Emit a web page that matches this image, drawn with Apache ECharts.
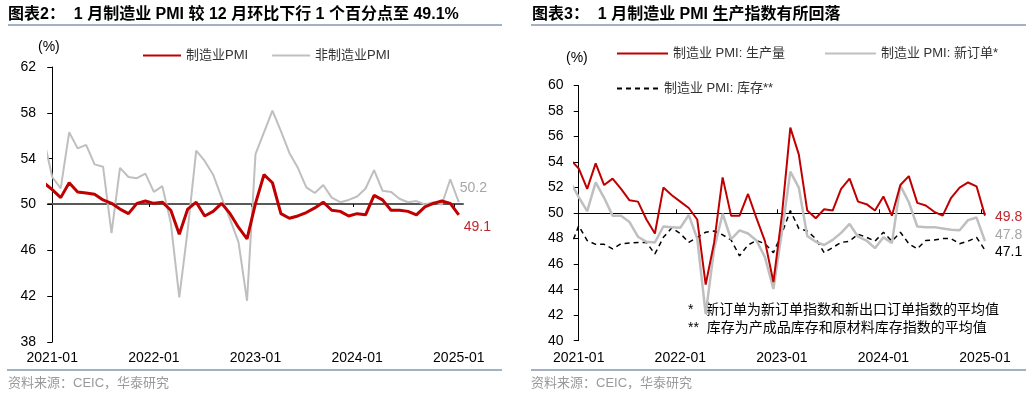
<!DOCTYPE html>
<html><head><meta charset="utf-8">
<script src="https://cdn.jsdelivr.net/npm/echarts@6/dist/echarts.min.js"></script>
<style>html,body{margin:0;padding:0;background:#fff}#c{width:1032px;height:394px}</style>
</head><body><div id="c"></div>
<script>
// Months: index -1 = 2020-12, 0 = 2021-01 ... 48 = 2025-01
const startMonth = -1;
const xTickLabels = ['2021-01','2022-01','2023-01','2024-01','2025-01'];
const xLabelValues = [0,12,24,36,48];
const xTickValues = [11.5,23.5,35.5,47.5];

const mfgPMI = [51.9,
 51.3,50.6,51.9,51.1,51.0,50.9,50.4,50.1,49.6,49.2,50.1,50.3,
 50.1,50.2,49.5,47.4,49.6,50.2,49.0,49.4,50.1,49.2,48.0,47.0,
 50.1,52.6,51.9,49.2,48.8,49.0,49.3,49.7,50.2,49.5,49.4,49.0,
 49.2,49.1,50.8,50.4,49.5,49.5,49.4,49.1,49.8,50.1,50.3,50.1,
 49.1];
const nonMfgPMI = [55.7,
 52.4,51.4,56.3,54.9,55.2,53.5,53.3,47.5,53.2,52.4,52.3,52.7,
 51.1,51.6,48.4,41.9,47.8,54.7,53.8,52.6,50.6,48.7,46.7,41.6,
 54.4,56.3,58.2,56.4,54.5,53.2,51.5,51.0,51.7,50.6,50.2,50.4,
 50.7,51.4,53.0,51.2,51.1,50.5,50.2,50.3,50.0,50.2,50.0,52.2,
 50.2];
const production = [54.2,
 53.5,51.9,53.9,52.2,52.7,51.9,51.0,50.9,49.5,48.4,52.0,51.4,
 50.9,50.4,49.5,44.4,47.7,52.8,49.8,49.8,51.5,49.6,47.8,44.6,
 49.8,56.7,54.6,50.2,49.6,50.3,50.2,51.9,52.7,50.9,50.7,50.2,
 51.3,49.8,52.2,52.9,50.8,50.6,50.1,49.8,51.2,52.0,52.4,52.1,
 49.8];
const newOrders = [52.45,
 51.25,50.15,52.4,51.2,49.8,49.8,49.3,48.15,47.75,47.7,48.95,48.9,
 48.85,49.85,48.0,42.1,47.2,49.95,47.95,48.65,48.4,47.85,46.55,44.05,
 48.5,53.25,52.0,48.2,47.75,47.5,47.9,48.45,49.15,48.15,47.85,47.25,
 48.1,47.65,52.15,50.85,48.95,48.9,48.9,48.8,48.7,48.65,49.45,49.65,
 47.8];
const inventory = [47.3,
 49.0,47.85,47.55,47.55,47.2,47.6,47.65,47.7,47.7,46.8,48.1,48.85,
 48.4,47.7,48.1,48.5,48.6,48.3,47.9,46.65,47.5,47.85,47.6,46.9,
 48.4,50.2,48.8,48.6,48.0,46.9,47.3,47.7,47.8,48.35,48.1,47.8,
 48.5,47.8,48.5,47.6,47.2,47.85,47.9,48.0,48.0,47.6,47.8,48.1,
 47.1];

const leftNames = ['制造业PMI','非制造业PMI'];
const rightNames = ['制造业 PMI: 生产量','制造业 PMI: 新订单*','制造业 PMI: 库存**'];

const pairs = arr => arr.map((v,i)=>[startMonth+i, v]);
const FONT = "'Liberation Sans', 'Noto Sans CJK SC', sans-serif";
const RED = '#C00000', GRAY = '#BFBFBF', BLACK = '#000000';

function labelAxis(grid, min, max, margin){
  return {type:'value', gridIndex:grid, min, max, axisLine:{show:false}, axisTick:{show:false}, splitLine:{show:false},
    axisLabel:{customValues:xLabelValues, formatter:v=>xTickLabels[xLabelValues.indexOf(v)]||'', color:'#000', fontSize:14, fontFamily:FONT, margin}};
}
function tickAxis(grid, min, max, offset, color, width, inside, len){
  return {type:'value', gridIndex:grid, min, max, position:'bottom', offset,
    axisLine:{show:true, lineStyle:{color, width}}, axisTick:{show:true, inside, length:len, customValues:xTickValues, lineStyle:{color:'#000', width:1}},
    axisLabel:{show:false}, splitLine:{show:false}};
}
function yAx(grid, min, max, interval, margin){
  return {type:'value', gridIndex:grid, min, max, interval, splitLine:{show:false},
    axisLine:{show:true, lineStyle:{color:'#000', width:1}}, axisTick:{show:true, length:5, lineStyle:{color:'#000'}},
    axisLabel:{color:'#000', fontSize:14, fontFamily:FONT, margin}};
}
function lineSeries(name, data, xi, yi, color, width, type, lab){
  return {name, type:'line', xAxisIndex:xi, yAxisIndex:yi, data:pairs(data), symbol:'none', animation:false,
    lineStyle:{color, width, type}, itemStyle:{color},
    endLabel:{show:true, formatter:p=>p.value[1].toFixed(1), color:lab.color, fontSize:14, fontFamily:FONT, distance:0, offset:lab.offset}};
}
const legendText = {fontSize:13, color:'#333', fontFamily:FONT};
const hideSym = {opacity:0};

const chart = echarts.init(document.getElementById('c'), null, {renderer:'canvas'});
const titleFont = "bold 16px " + FONT;
chart.setOption({
  backgroundColor:'#fff',
  animation:false,
  grid:[
    {left:48, top:67, width:415, height:275},
    {left:574.5, top:85.5, width:410.5, height:255.2}
  ],
  xAxis:[
    labelAxis(0,-0.5,48.5,9),
    tickAxis(0,-0.5,48.5,-138,'#595959',2,false,3),
    labelAxis(1,-0.5,48,10),
    tickAxis(1,-0.5,48,-127.4,'#000',1.2,true,4)
  ],
  yAxis:[ yAx(0,38,62,4,12), yAx(1,40,60,2,11) ],
  legend:[
    {data:leftNames, left:137, top:44, itemWidth:38, itemHeight:14, itemGap:23, itemStyle:hideSym, textStyle:legendText},
    {data:rightNames.slice(0,2), left:611, top:42, itemWidth:51, itemHeight:14, itemGap:39, itemStyle:hideSym, textStyle:legendText},
    {data:rightNames.slice(2), left:611, top:77, itemWidth:42, itemHeight:14, itemStyle:hideSym, textStyle:legendText}
  ],
  series:[
    lineSeries(leftNames[1], nonMfgPMI, 0, 0, GRAY, 2, 'solid', {color:'#a6a6a6', offset:[1,-14]}),
    lineSeries(leftNames[0], mfgPMI, 0, 0, RED, 3, 'solid', {color:'#c0282d', offset:[5,12]}),
    lineSeries(rightNames[2], inventory, 2, 1, BLACK, 1.5, [5,4], {color:'#000', offset:[10,2]}),
    lineSeries(rightNames[1], newOrders, 2, 1, GRAY, 2.5, 'solid', {color:'#a6a6a6', offset:[10,-6]}),
    lineSeries(rightNames[0], production, 2, 1, RED, 2, 'solid', {color:'#c0282d', offset:[10,1]})
  ],
  graphic:[
    {type:'text', x:8, y:15, style:{text:'图表2：  1 月制造业 PMI 较 12 月环比下行 1 个百分点至 49.1%', font:titleFont, fill:'#000', verticalAlign:'middle'}},
    {type:'text', x:532, y:15, style:{text:'图表3：  1 月制造业 PMI 生产指数有所回落', font:titleFont, fill:'#000', verticalAlign:'middle'}},
    {type:'line', shape:{x1:8, y1:25, x2:502, y2:25}, style:{stroke:'#8497b0', lineWidth:1.5}},
    {type:'line', shape:{x1:531, y1:25, x2:1026, y2:25}, style:{stroke:'#8497b0', lineWidth:1.5}},
    {type:'line', shape:{x1:7, y1:370, x2:502, y2:370}, style:{stroke:'#8497b0', lineWidth:1.5}},
    {type:'line', shape:{x1:531, y1:370, x2:1026, y2:370}, style:{stroke:'#8497b0', lineWidth:1.5}},
    {type:'text', x:8, y:383, style:{text:'资料来源：CEIC，华泰研究', font:'13px '+FONT, fill:'#9a9a9a', verticalAlign:'middle'}},
    {type:'text', x:531, y:383, style:{text:'资料来源：CEIC，华泰研究', font:'13px '+FONT, fill:'#9a9a9a', verticalAlign:'middle'}},
    {type:'text', x:38, y:47, style:{text:'(%)', font:'14px '+FONT, fill:'#000', verticalAlign:'middle'}},
    {type:'text', x:566, y:58, style:{text:'(%)', font:'14px '+FONT, fill:'#000', verticalAlign:'middle'}},
    {type:'text', x:688, y:310, style:{text:'*   新订单为新订单指数和新出口订单指数的平均值', font:'14px '+FONT, fill:'#000', verticalAlign:'middle'}},
    {type:'text', x:688, y:328, style:{text:'**  库存为产成品库存和原材料库存指数的平均值', font:'14px '+FONT, fill:'#000', verticalAlign:'middle'}}
  ]
});
</script></body></html>
